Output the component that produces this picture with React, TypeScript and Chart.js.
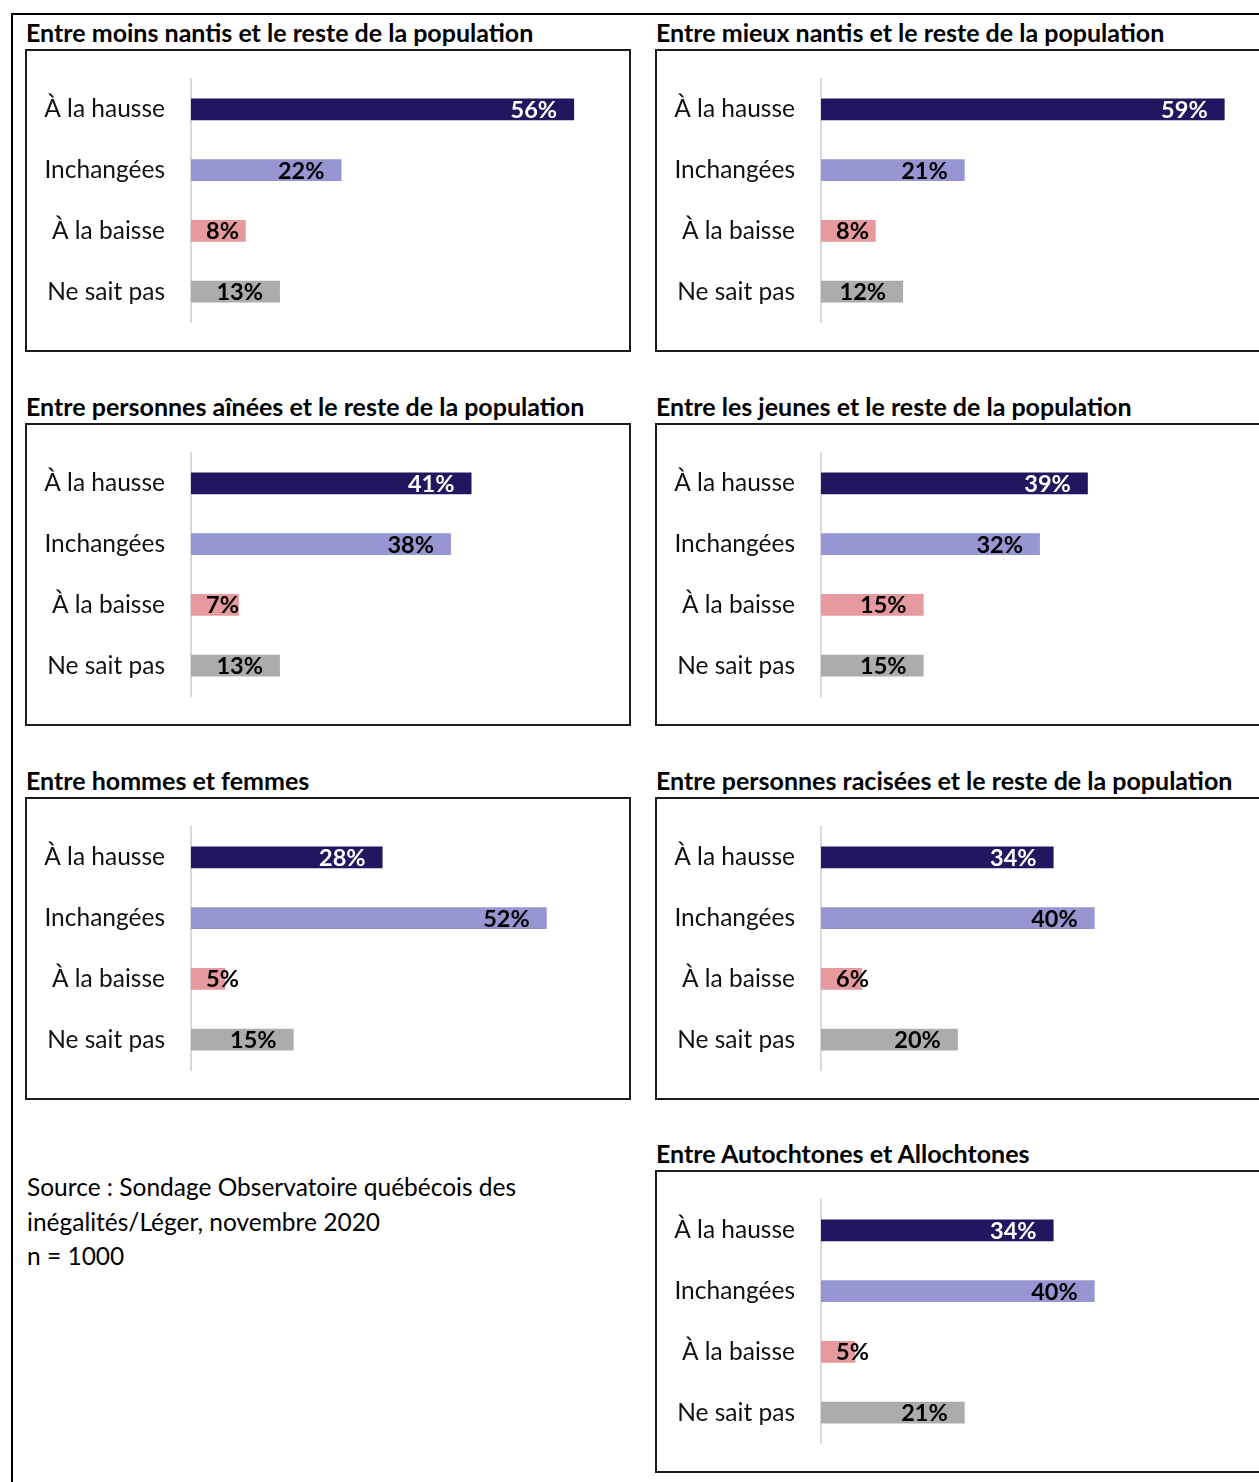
import React, { useEffect, useRef } from "react";
import { Chart, registerables } from "chart.js";

Chart.register(...registerables);

const categories = ["À la hausse", "Inchangées", "À la baisse", "Ne sait pas"];
const barColors = ["#21165F", "#9895D3", "#E69A9E", "#AEABAB"];
const labelColors = ["#FFFFFF", "#000000", "#000000", "#000000"];

const titleMoinsNantis = "Entre moins nantis et le reste de la population";
const titleMieuxNantis = "Entre mieux nantis et le reste de la population";
const titleAinees = "Entre personnes aînées et le reste de la population";
const titleJeunes = "Entre les jeunes et le reste de la population";
const titleHommesFemmes = "Entre hommes et femmes";
const titleRacisees = "Entre personnes racisées et le reste de la population";
const titleAutochtones = "Entre Autochtones et Allochtones";

const moinsNantis = [56, 22, 8, 13];
const mieuxNantis = [59, 21, 8, 12];
const ainees = [41, 38, 7, 13];
const jeunes = [39, 32, 15, 15];
const hommesFemmes = [28, 52, 5, 15];
const racisees = [34, 40, 6, 20];
const autochtones = [34, 40, 5, 21];

const sourceLines = [
  "Source : Sondage Observatoire québécois des",
  "inégalités/Léger, novembre 2020",
  "n = 1000",
];

const FONT = "Lato, 'Open Sans', sans-serif";
const BOX_W = 606;
const BOX_H = 303;

const barLabelPlugin = {
  id: "barLabels",
  afterDatasetsDraw(chart: any) {
    const ctx = chart.ctx;
    const meta = chart.getDatasetMeta(0);
    const data = chart.data.datasets[0].data;
    ctx.save();
    ctx.font = `bold 23.5px ${FONT}`;
    ctx.textBaseline = "middle";
    ctx.textAlign = "left";
    meta.data.forEach((bar: any, i: number) => {
      const txt = `${data[i]}%`;
      const w = ctx.measureText(txt).width;
      let left = bar.x - 17 - w;
      if (left < bar.base + 15) left = bar.base + 15;
      ctx.fillStyle = labelColors[i];
      ctx.fillText(txt, left, bar.y + 1);
    });
    ctx.restore();
  },
};

function Panel({ title, values, left, top }: { title: string; values: number[]; left: number; top: number }) {
  const ref = useRef<HTMLCanvasElement | null>(null);
  useEffect(() => {
    if (!ref.current) return;
    const chart = new Chart(ref.current, {
      type: "bar",
      data: {
        labels: categories,
        datasets: [
          {
            data: values,
            backgroundColor: barColors,
            borderWidth: 0,
            categoryPercentage: 1,
            barPercentage: 0.362,
          },
        ],
      },
      options: {
        indexAxis: "y",
        responsive: false,
        animation: false,
        devicePixelRatio: 1,
        layout: { padding: { top: 28, bottom: 28, right: 7, left: 0 } },
        plugins: { legend: { display: false }, tooltip: { enabled: false }, title: { display: false } },
        scales: {
          x: { display: false, min: 0, max: 63 },
          y: {
            afterFit: (s: any) => {
              s.width = 164;
              s.paddingTop = 0;
              s.paddingBottom = 0;
            },
            grid: { display: false, drawTicks: false },
            border: { display: true, color: "#D9D9D9", width: 2 },
            ticks: { color: "#111111", padding: 26, font: { family: FONT, size: 24.5 } },
          },
        },
      },
      plugins: [barLabelPlugin],
    });
    return () => chart.destroy();
  }, [values]);
  return (
    <>
      <div
        style={{
          position: "absolute",
          left: left + 1,
          top: top - 32,
          font: `bold 25px ${FONT}`,
          lineHeight: "30px",
          whiteSpace: "nowrap",
          color: "#000",
        }}
      >
        {title}
      </div>
      <div
        style={{
          position: "absolute",
          left,
          top,
          width: BOX_W,
          height: BOX_H,
          boxSizing: "border-box",
          border: "2px solid #1c1c1c",
        }}
      />
      <canvas
        ref={ref}
        width={BOX_W - 4}
        height={BOX_H - 4}
        style={{ position: "absolute", left: left + 2, top: top + 2, width: BOX_W - 4, height: BOX_H - 4 }}
      />
    </>
  );
}

export default function App() {
  const L = 25;
  const R = 655;
  const rows = [49, 423, 797, 1170];
  return (
    <div
      style={{
        position: "absolute",
        left: 0,
        top: 0,
        width: 1259,
        height: 1482,
        overflow: "hidden",
        background: "#fff",
        fontFamily: FONT,
      }}
    >
      <div
        style={{
          position: "absolute",
          left: 11,
          top: 13,
          width: 1400,
          height: 1600,
          borderLeft: "2px solid #000",
          borderTop: "2px solid #000",
        }}
      />
      <Panel title={titleMoinsNantis} values={moinsNantis} left={L} top={rows[0]} />
      <Panel title={titleMieuxNantis} values={mieuxNantis} left={R} top={rows[0]} />
      <Panel title={titleAinees} values={ainees} left={L} top={rows[1]} />
      <Panel title={titleJeunes} values={jeunes} left={R} top={rows[1]} />
      <Panel title={titleHommesFemmes} values={hommesFemmes} left={L} top={rows[2]} />
      <Panel title={titleRacisees} values={racisees} left={R} top={rows[2]} />
      <Panel title={titleAutochtones} values={autochtones} left={R} top={rows[3]} />
      <div
        style={{
          position: "absolute",
          left: 27,
          top: 1170,
          font: `24.5px ${FONT}`,
          lineHeight: "34.5px",
          color: "#000",
        }}
      >
        {sourceLines.map((s, i) => (
          <div key={i}>{s}</div>
        ))}
      </div>
    </div>
  );
}
